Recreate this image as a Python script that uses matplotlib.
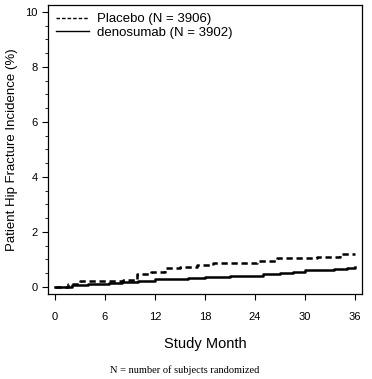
import matplotlib
matplotlib.use("Agg")
import matplotlib.pyplot as plt
from matplotlib.ticker import MultipleLocator

plt.rcParams['font.family'] = ['Liberation Sans', 'DejaVu Sans']

placebo_month = [0, 1.5, 3, 8.2, 9.8, 11.5, 13.2, 15, 17, 19, 22, 24.2, 26.6, 30, 31.5, 33, 34.2, 36]
placebo_value = [0, 0.1, 0.2, 0.25, 0.45, 0.55, 0.7, 0.72, 0.8, 0.85, 0.88, 0.95, 1.04, 1.04, 1.08, 1.1, 1.2, 1.2]
deno_month = [0, 2, 4, 6.5, 8, 10, 12, 16, 18, 21, 24, 25, 27, 28.5, 30, 32, 33.5, 35, 36]
deno_value = [0, 0.05, 0.1, 0.13, 0.18, 0.22, 0.3, 0.32, 0.35, 0.38, 0.4, 0.45, 0.5, 0.55, 0.6, 0.62, 0.65, 0.7, 0.72]
x_ticks = [0, 6, 12, 18, 24, 30, 36]
y_ticks = [0, 2, 4, 6, 8, 10]

fig = plt.figure(figsize=(3.72, 3.79), dpi=100)
ax = fig.add_axes([48/372, 1-294/379, 314/372, 289/379])

ax.step(placebo_month, placebo_value, where="post", color="black", lw=1.8,
        linestyle=(0, (2.5, 1.5)), label="Placebo (N = 3906)")
ax.step(deno_month, deno_value, where="post", color="black", lw=1.8,
        label="denosumab (N = 3902)")

ax.set_xlim(-0.84, 36.84)
ax.set_ylim(-0.26, 10.25)
ax.set_xticks(x_ticks)
ax.set_yticks(y_ticks)
ax.yaxis.set_minor_locator(MultipleLocator(0.5))
ax.tick_params(axis="both", labelsize=8, length=4, width=0.8, direction="out")
ax.tick_params(axis="y", which="minor", length=2.5, width=0.6)
ax.tick_params(axis="x", pad=9)
for s in ax.spines.values():
    s.set_linewidth(0.9)

ax.set_ylabel("Patient Hip Fracture Incidence (%)", fontsize=9.5, labelpad=5)
ax.set_xlabel("Study Month", fontsize=10.5, labelpad=11)

leg = ax.legend(loc="upper left", frameon=False, fontsize=9.5, handlelength=2.5,
                handletextpad=0.6, borderaxespad=0.2, labelspacing=0.1)
for l in leg.get_lines():
    l.set_linewidth(1.0)

fig.text(185/372, 1-370/379, "N = number of subjects randomized", ha="center", va="center",
         fontsize=7.5, family="Liberation Serif")

fig.savefig("out.png", dpi=100)
